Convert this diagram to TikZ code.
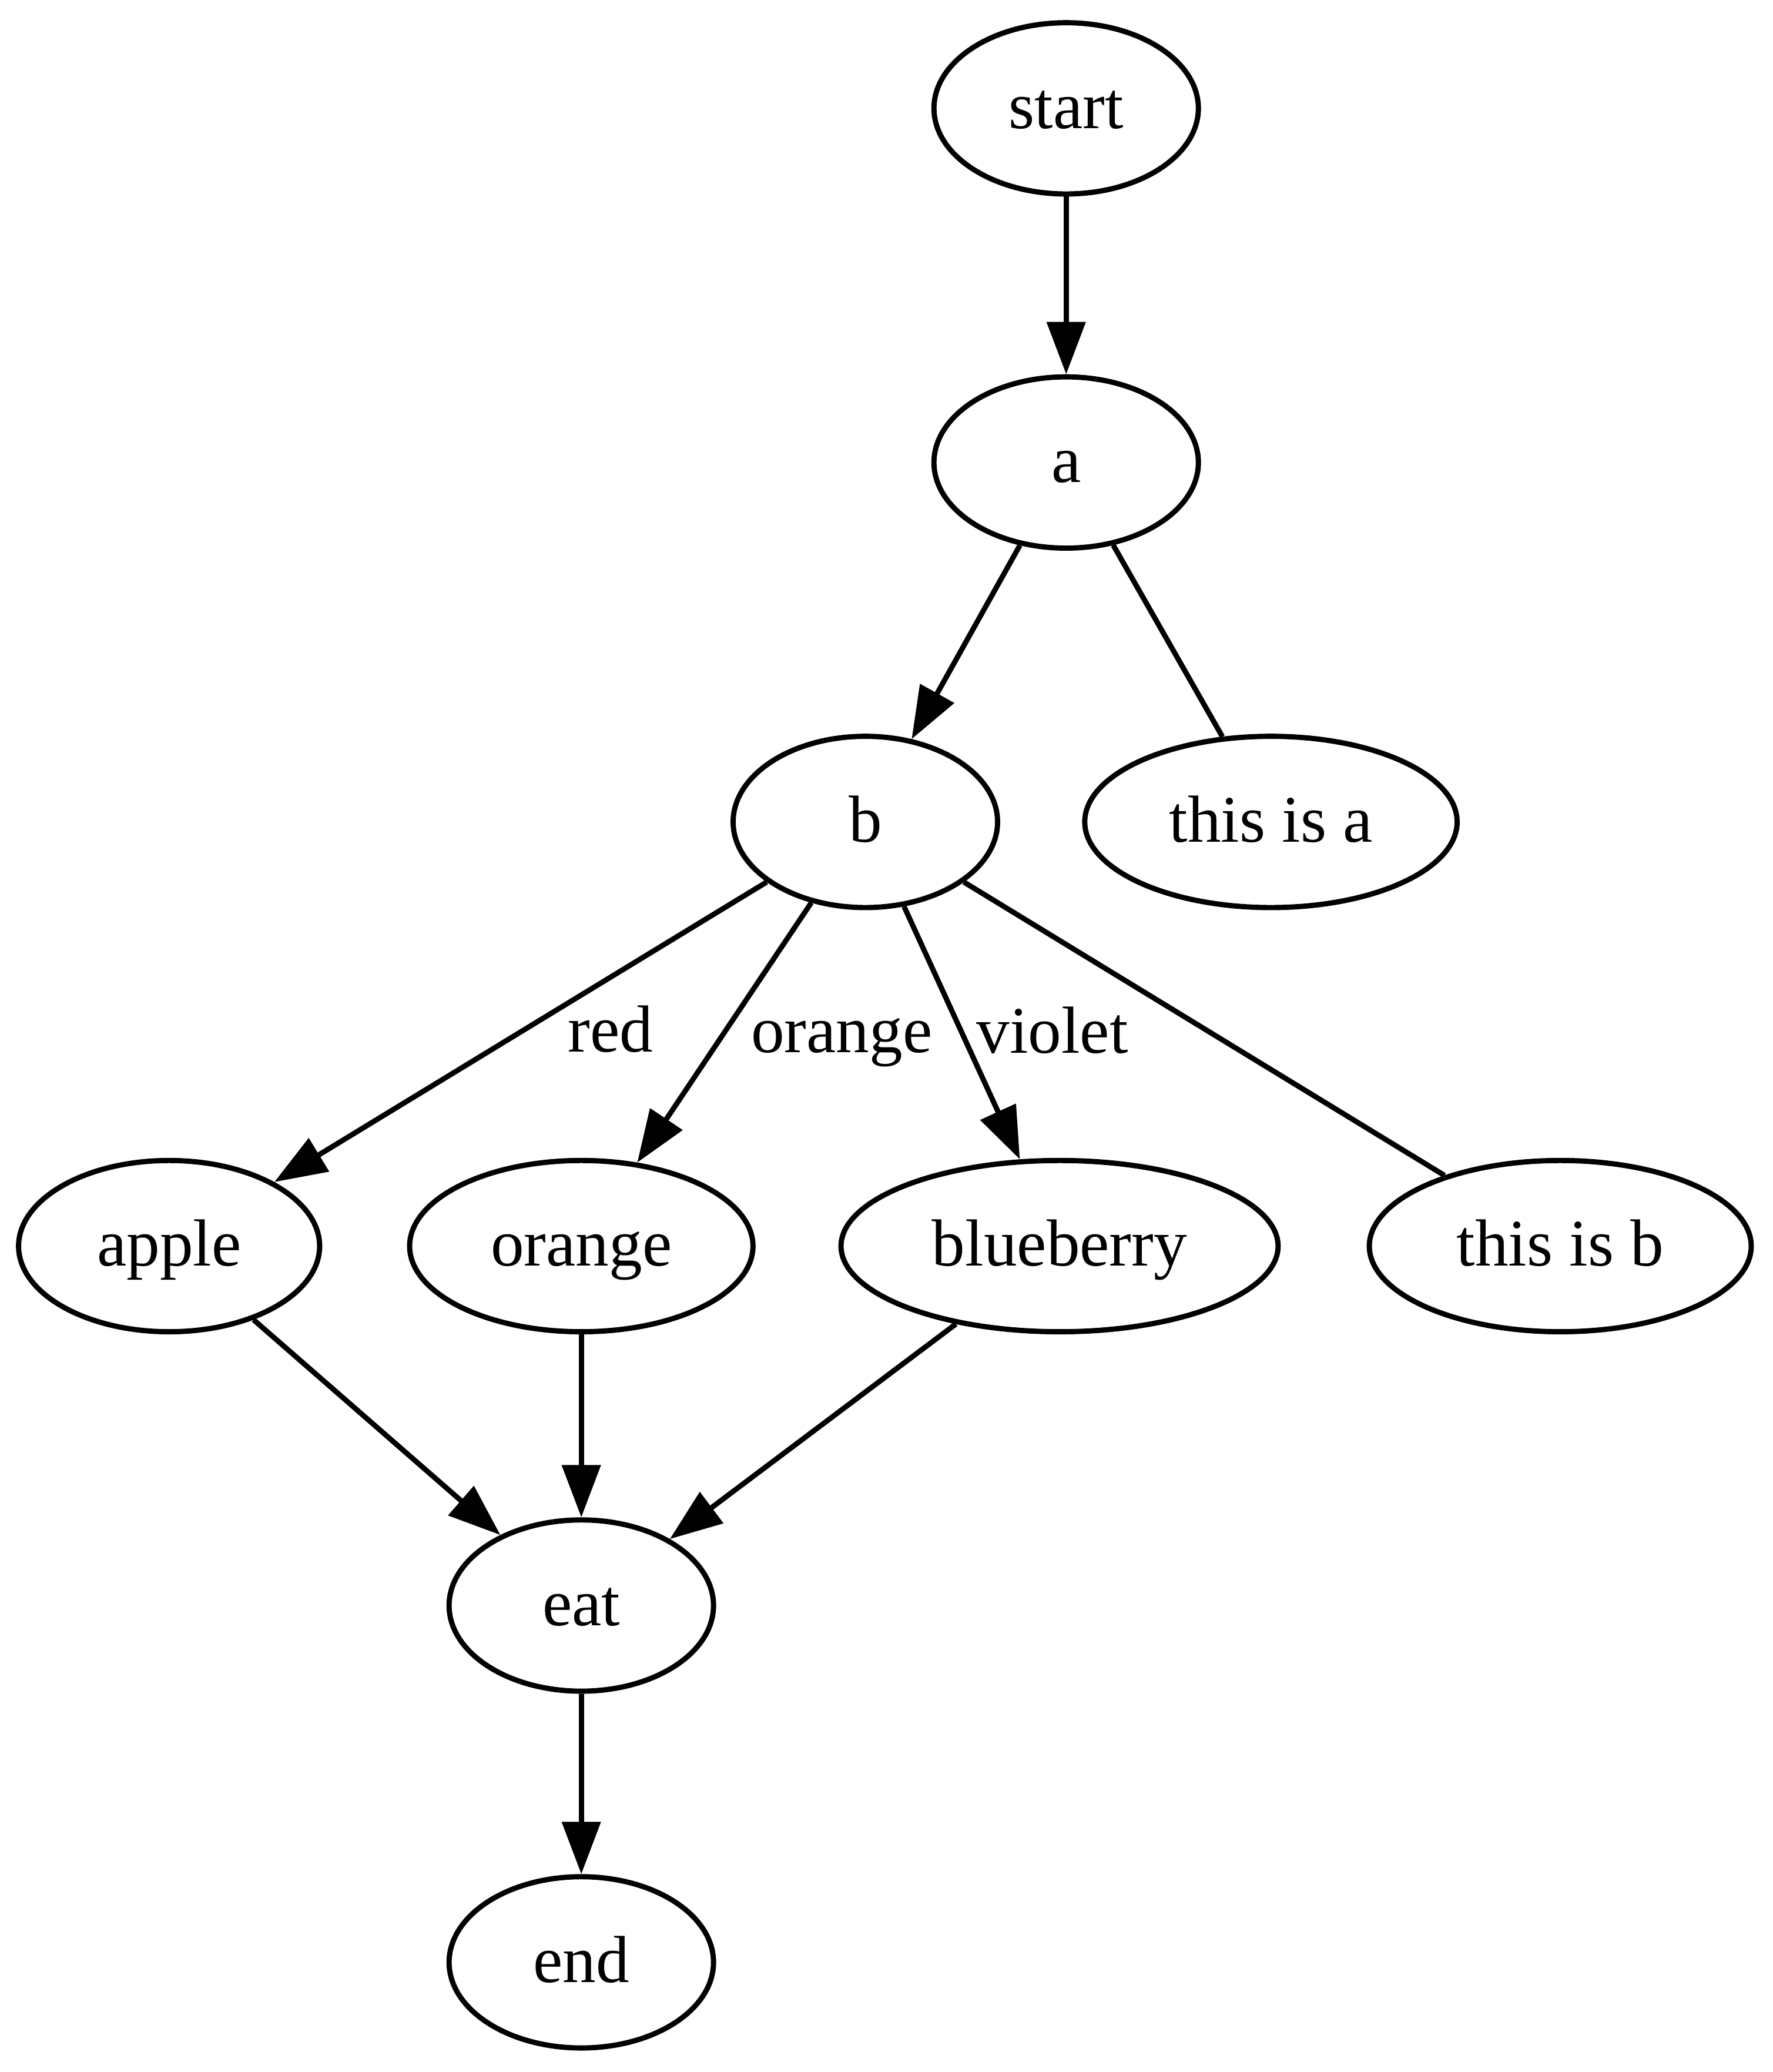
\documentclass[tikz,border=0pt]{standalone}
\usepackage{fontspec}
\setmainfont{Liberation Serif}
\usetikzlibrary{shapes.geometric,arrows.meta}

\begin{document}
\begin{tikzpicture}[x=0.27778pt,y=-0.27778pt,
  gvnode/.style={ellipse,draw,line width=1.1pt,minimum width=55.6pt,minimum height=36pt,inner sep=0pt,
    text height=9.5pt,text depth=1.1pt,font=\fontsize{14}{16.8}\selectfont},
  gvedge/.style={line width=1.1pt},
  gvarrow/.style={gvedge,-{Triangle[length=11pt,width=8pt]}},
  elabel/.style={inner sep=0pt,text height=9.5pt,text depth=1.1pt,font=\fontsize{14}{16.8}\selectfont}]

 \useasboundingbox (0,0) rectangle (1342,1568);

% nodes
 \node[gvnode] (start) at (807,82) {start};
 \node[gvnode] (a) at (807,350) {a};
 \node[gvnode] (b) at (655,622) {b};
 \node[gvnode,minimum width=78.3pt] (thisisa) at (962,622) {this is a};
 \node[gvnode,minimum width=63.3pt] (apple) at (128,943) {apple};
 \node[gvnode,minimum width=72.2pt] (orange) at (440,943) {orange};
 \node[gvnode,minimum width=91.9pt] (blueberry) at (802,943) {blueberry};
 \node[gvnode,minimum width=80.3pt] (thisisb) at (1181,943) {this is b};
 \node[gvnode] (eat) at (440,1215) {eat};
 \node[gvnode] (end) at (440,1485) {end};

% edges
 \draw[gvarrow] (start) -- (a);
 \draw[gvarrow] (a) -- (b);
 \draw[gvedge] (a) -- (thisisa); % no arrow head
 \draw[gvarrow] (b) -- node[elabel,xshift=18.9pt] {red} (apple);
 \draw[gvarrow] (b) -- node[elabel,xshift=24.7pt] {orange} (orange);
 \draw[gvarrow] (b) -- node[elabel,xshift=19pt] {violet} (blueberry);
 \draw[gvedge] (b) -- (thisisb); % no arrow head
 \draw[gvarrow] (apple) -- (eat);
 \draw[gvarrow] (orange) -- (eat);
 \draw[gvarrow] (blueberry) -- (eat);
 \draw[gvarrow] (eat) -- (end);

\end{tikzpicture}
\end{document}
